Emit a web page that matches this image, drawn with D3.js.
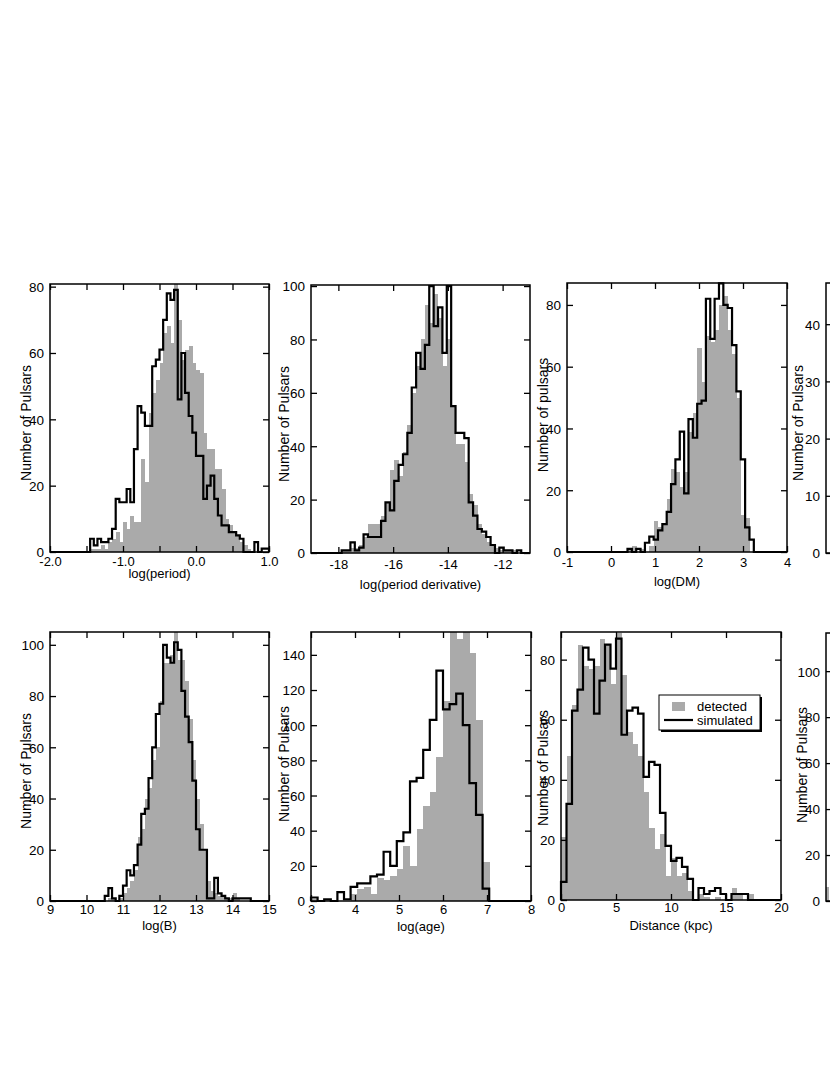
<!DOCTYPE html>
<html><head><meta charset="utf-8">
<script src="https://cdn.jsdelivr.net/npm/d3@7/dist/d3.min.js"></script>
<style>
body{margin:0;background:#fff}
svg{display:block}
text{font-family:"Liberation Sans",Arial,Helvetica,sans-serif;fill:#000}
</style>
</head><body>
<svg id="chart" width="830" height="1075"></svg>
<script>
// ---------------- DATA ----------------
// log(period): bins of 0.05 starting at -1.5
const periodBinStart = -1.5, periodBinWidth = 0.05;
const periodDetected = [0,1,1,1,2,1,3,4,6,3,9,7,11,9,9,28,21,42,48,52,57,66,68,63,81,70,58,61,62,57,55,54,36,31,31,25,25,19,10,8,6,5,3,2,1,0,0,0,0,0];
const periodSimulated = [0,4,2,4,3,3,4,7,16,15,15,19,15,31,44,42,38,38,56,58,61,70,78,76,79,46,60,48,41,36,29,29,16,20,23,16,11,8,8,6,6,5,4,0,0,0,3,0,1,1];
const periodXTicks = [-2,-1.5,-1,-0.5,0,0.5,1];
const periodXLabels = [-2,-1,0,1];

// log(period derivative)
const pdotBinStart = -17.88, pdotBinWidth = 0.16;
const pdotDetected = [1,1,2,2,3,6,11,11,11,14,19,31,35,29,38,48,60,70,80,93,86,97,88,70,80,55,41,41,34,22,18,11,7,4,3,2,1,1,1,1,0];
const pdotSimulated = [1,1,4,1,2,7,6,6,6,12,19,16,27,33,37,45,62,75,69,78,100,85,92,75,100,55,45,45,43,19,14,9,8,6,3,0,2,1,1,0,1];
const pdotXTicks = [-18,-16,-14,-12];

// log(DM)
const dmBinStart = 0.375, dmBinWidth = 0.099;
const dmDetected = [1,2,0,1,0,2,10,8,9,17,27,26,21,26,39,45,66,55,70,68,72,80,83,72,64,50,12,11,0];
const dmSimulated = [1,0,1,0,3,5,4,7,9,13,22,30,39,19,43,37,48,49,82,69,82,87,80,79,67,52,30,8,4];
const dmXTicks = [-1,0,1,2,3,4];

// log(B)
const bBinStart = 10.5, bBinWidth = 0.1;
const bDetected = [0,1,1,0,1,3,5,8,12,25,28,40,44,55,60,78,93,93,96,105,94,94,86,71,55,40,30,20,8,4,3,2,2,1,1,3,1,0,0,0];
const bSimulated = [2,5,1,0,2,6,12,10,14,22,34,36,48,60,73,77,100,95,93,101,98,82,72,62,47,28,20,20,1,1,9,3,2,1,0,1,1,1,1,1];
const bXTicks = [9,10,11,12,13,14,15];

// log(age)
const ageBinStart = 3.0, ageBinWidth = 0.15;
const ageDetected = [1,0,1,0,0,0,4,7,8,4,13,12,14,18,31,20,41,54,62,82,114,160,149,158,141,103,22];
const ageSimulated = [2,0,1,0,5,1,8,10,10,14,15,28,20,34,39,68,70,86,103,131,109,112,118,100,67,49,7];
const ageXTicks = [3,4,5,6,7,8];

// Distance (kpc)
const distBinStart = 0, distBinWidth = 0.5;
const distDetected = [21,48,65,85,78,77,78,87,85,72,89,75,56,52,48,36,24,17,22,8,14,8,9,3,0,2,1,0,1,0,0,4,2,0,2,0];
const distSimulated = [6,32,63,70,84,80,62,73,85,77,87,55,63,64,62,41,46,45,29,18,13,14,11,7,0,4,2,3,4,2,0,2,2,2,0,0];
const distXTicks = [0,5,10,15,20];

// panels cut off at right edge
const rightTopYTicks = [0,10,20,30,40];
const rightBottomBinStart = 0, rightBottomBinWidth = 0.5;
const rightBottomDetected = [6];

const legendLabels = ["detected","simulated"];

// ---------------- LAYOUT ----------------
const hy = f => (d => f(d).replace("\u2212", "-"));
const f1 = hy(d3.format(".1f")), f0 = hy(d3.format("d"));

const panels = [
  {left:50,right:269,top:284,bottom:552,xDomain:[-2,1],yMax:80.8,yTicks:[0,20,40,60,80],
   xTicks:periodXTicks,xLabelVals:periodXLabels,fmt:f1,
   det:periodDetected,sim:periodSimulated,bs:periodBinStart,bw:periodBinWidth,
   xTitle:"log(period)",yTitle:"Number of Pulsars",tickBase:566,titleBase:578,yT:[26,423]},
  {left:311,right:530,top:285,bottom:553,xDomain:[-19,-11],yMax:100.4,yTicks:[0,20,40,60,80,100],
   xTicks:pdotXTicks,xLabelVals:pdotXTicks,fmt:f0,
   det:pdotDetected,sim:pdotSimulated,bs:pdotBinStart,bw:pdotBinWidth,
   xTitle:"log(period derivative)",yTitle:"Number of Pulsars",tickBase:569,titleBase:589,yT:[284,424]},
  {left:567,right:787,top:283,bottom:552,xDomain:[-1,4],yMax:87.1,yTicks:[0,20,40,60,80],
   xTicks:dmXTicks,xLabelVals:dmXTicks,fmt:f0,
   det:dmDetected,sim:dmSimulated,bs:dmBinStart,bw:dmBinWidth,
   xTitle:"log(DM)",yTitle:"Number of pulsars",tickBase:567,titleBase:586,yT:[543,415]},
  {left:826,right:1046,top:283,bottom:553,xDomain:[0,10],yMax:47.2,yTicks:rightTopYTicks,
   xTicks:[],xLabelVals:[],fmt:f0,
   det:null,sim:null,bs:0,bw:1,
   xTitle:"",yTitle:"Number of Pulsars",tickBase:568,titleBase:586,yT:[798,423]},
  {left:50,right:269,top:632,bottom:901,xDomain:[9,15],yMax:105,yTicks:[0,20,40,60,80,100],
   xTicks:bXTicks,xLabelVals:bXTicks,fmt:f0,
   det:bDetected,sim:bSimulated,bs:bBinStart,bw:bBinWidth,
   xTitle:"log(B)",yTitle:"Number of Pulsars",tickBase:914,titleBase:930,yT:[26,771]},
  {left:311,right:531,top:632,bottom:901,xDomain:[3,8],yMax:153,yTicks:[0,20,40,60,80,100,120,140],
   xTicks:ageXTicks,xLabelVals:ageXTicks,fmt:f0,
   det:ageDetected,sim:ageSimulated,bs:ageBinStart,bw:ageBinWidth,
   xTitle:"log(age)",yTitle:"Number of Pulsars",tickBase:914,titleBase:931,yT:[284,764]},
  {left:561,right:781,top:632,bottom:900,xDomain:[0,20],yMax:89.2,yTicks:[0,20,40,60,80],
   xTicks:distXTicks,xLabelVals:distXTicks,fmt:f0,
   det:distDetected,sim:distSimulated,bs:distBinStart,bw:distBinWidth,
   xTitle:"Distance (kpc)",yTitle:"Number of Pulsars",tickBase:912,titleBase:930,yT:[543,768],
   legend:true},
  {left:826,right:1046,top:633,bottom:901,xDomain:[0,50],yMax:116.6,yTicks:[0,20,40,60,80,100],
   xTicks:[],xLabelVals:[],fmt:f0,
   det:rightBottomDetected,sim:null,bs:rightBottomBinStart,bw:rightBottomBinWidth,
   xTitle:"",yTitle:"Number of Pulsars",tickBase:915,titleBase:929,yT:[802,765]}
];

const svg = d3.select("#chart");
const defs = svg.append("defs");
const FS = 13;

panels.forEach((p, pi) => {
  const x = d3.scaleLinear().domain(p.xDomain).range([p.left, p.right]);
  const y = d3.scaleLinear().domain([0, p.yMax]).range([p.bottom, p.top]);
  const g = svg.append("g");

  const cid = "clip" + pi;
  defs.append("clipPath").attr("id", cid)
    .append("rect").attr("x", p.left).attr("y", p.top)
    .attr("width", p.right - p.left).attr("height", p.bottom - p.top);
  defs.append("clipPath").attr("id", cid + "b")
    .append("rect").attr("x", p.left - 2).attr("y", p.top - 2)
    .attr("width", p.right - p.left + 4).attr("height", p.bottom - p.top + 4);

  // detected (grey bars)
  if (p.det) {
    g.append("g").attr("clip-path", `url(#${cid})`)
      .selectAll("rect").data(p.det).join("rect")
      .attr("x", (d, i) => x(p.bs + i * p.bw))
      .attr("width", (d, i) => x(p.bs + (i + 1) * p.bw) - x(p.bs + i * p.bw) + 0.4)
      .attr("y", d => y(d))
      .attr("height", d => y(0) - y(d))
      .attr("fill", "#aaaaaa")
      .attr("shape-rendering", "crispEdges");
  }

  // simulated (black step line)
  if (p.sim) {
    const n = p.sim.length;
    const pts = [[p.xDomain[0], 0], [p.bs, 0]];
    p.sim.forEach((v, i) => pts.push([p.bs + i * p.bw, v]));
    pts.push([p.bs + n * p.bw, 0]);
    pts.push([p.xDomain[1], 0]);
    const line = d3.line().x(d => x(d[0])).y(d => y(d[1])).curve(d3.curveStepAfter);
    g.append("path").attr("d", line(pts))
      .attr("fill", "none").attr("stroke", "#000")
      .attr("stroke-width", 2.2).attr("stroke-linejoin", "miter")
      .attr("clip-path", `url(#${cid}b)`);
  }

  // axes (ticks inward, mirrored)
  const labelSet = new Set(p.xLabelVals.map(v => +v.toFixed(4)));
  const axB = g.append("g").attr("transform", `translate(0,${p.bottom})`)
    .call(d3.axisBottom(x).tickValues(p.xTicks).tickSize(-6).tickPadding(0)
      .tickFormat(d => labelSet.has(+d.toFixed(4)) ? p.fmt(d) : ""));
  axB.selectAll("text").attr("y", p.tickBase - p.bottom).attr("dy", 0)
    .attr("font-size", FS).attr("font-family", null);
  const axT = g.append("g").attr("transform", `translate(0,${p.top})`)
    .call(d3.axisTop(x).tickValues(p.xTicks).tickSize(-6).tickFormat(""));
  const axL = g.append("g").attr("transform", `translate(${p.left},0)`)
    .call(d3.axisLeft(y).tickValues(p.yTicks).tickSize(-6).tickPadding(6).tickFormat(f0));
  axL.selectAll("text").attr("font-size", FS + 0.5).attr("font-family", null).attr("dy", "0.36em");
  const axR = g.append("g").attr("transform", `translate(${p.right},0)`)
    .call(d3.axisRight(y).tickValues(p.yTicks).tickSize(-6).tickFormat(""));
  [axB, axT, axL, axR].forEach(a => {
    a.select(".domain").remove();
    a.selectAll("line").attr("stroke", "#000").attr("stroke-width", 1.3);
  });

  // frame
  g.append("rect").attr("x", p.left).attr("y", p.top)
    .attr("width", p.right - p.left).attr("height", p.bottom - p.top)
    .attr("fill", "none").attr("stroke", "#000").attr("stroke-width", 1.5);

  // titles
  if (p.xTitle) {
    g.append("text").attr("x", (p.left + p.right) / 2).attr("y", p.titleBase)
      .attr("text-anchor", "middle").attr("font-size", FS).text(p.xTitle);
  }
  g.append("text")
    .attr("transform", `translate(${p.yT[0]},${p.yT[1]}) rotate(-90)`)
    .attr("text-anchor", "middle").attr("dy", "0.36em")
    .attr("font-size", 14).text(p.yTitle);

  // legend
  if (p.legend) {
    const lx = p.left + 98, ly = p.top + 63, lw = 101, lh = 35;
    const lg = g.append("g");
    lg.append("rect").attr("x", lx + 2).attr("y", ly + 2).attr("width", lw).attr("height", lh).attr("fill", "#000");
    lg.append("rect").attr("x", lx).attr("y", ly).attr("width", lw).attr("height", lh)
      .attr("fill", "#fff").attr("stroke", "#000").attr("stroke-width", 1);
    lg.append("rect").attr("x", lx + 13).attr("y", ly + 7).attr("width", 13).attr("height", 9).attr("fill", "#aaaaaa");
    lg.append("line").attr("x1", lx + 5).attr("x2", lx + 34).attr("y1", ly + 25).attr("y2", ly + 25)
      .attr("stroke", "#000").attr("stroke-width", 2.2);
    lg.append("text").attr("x", lx + 38).attr("y", ly + 15.5).attr("font-size", FS).text(legendLabels[0]);
    lg.append("text").attr("x", lx + 38).attr("y", ly + 29.5).attr("font-size", FS).text(legendLabels[1]);
  }
});
</script>
</body></html>
